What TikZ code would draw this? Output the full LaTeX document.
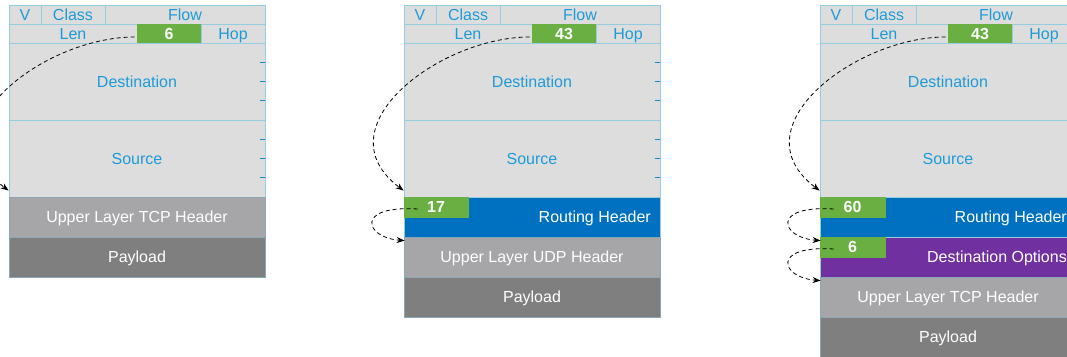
\documentclass[tikz,border=0pt]{standalone}
\usepackage{fontspec}
\setmainfont{Liberation Sans}
\usetikzlibrary{arrows.meta}

\definecolor{cellgray}{HTML}{DDDDDD}
\definecolor{cellline}{HTML}{93CDDF}
\definecolor{fieldblue}{HTML}{1D9BD6}
\definecolor{tickblue}{HTML}{1A8ACB}
\definecolor{valgreen}{HTML}{6AAF41}
\definecolor{routeblue}{HTML}{0070C0}
\definecolor{optpurple}{HTML}{7030A0}
\definecolor{upgray}{HTML}{A6A6A8}
\definecolor{paygray}{HTML}{7F7F7F}
\definecolor{darkline}{HTML}{8AA7B6}

\tikzset{
  cell/.style={rectangle, draw=cellline, line width=0.8pt, fill=cellgray,
    inner sep=0pt, text=fieldblue, text height=11.5pt, text depth=0pt,
    font=\fontsize{16}{16}\selectfont},
  value/.style={cell, draw=valgreen, fill=valgreen, text=white,
    font=\bfseries\fontsize{16}{16}\selectfont},
  upper/.style={cell, draw=darkline, fill=upgray, text=white},
  payload/.style={cell, draw=darkline, fill=paygray, text=white},
  routing/.style={cell, fill=routeblue, text=white},
  options/.style={cell, fill=optpurple, text=white},
  rowlabel/.style={inner sep=0pt, text=white, text height=11.5pt, text depth=0pt,
    font=\fontsize{16}{16}\selectfont, anchor=east},
  tick/.style={draw=tickblue, line width=0.9pt},
  next/.style={draw=black, line width=0.8pt, dash pattern=on 4pt off 3pt,
    -{Stealth[length=8pt,width=6pt]}}
}

% a field: name, x0, y0, x1, y1, style, text
\newcommand\fld[7]{%
  \node[#6, minimum width={#4-#2}, minimum height={#5-#3}] (#1)
    at ({(#2+#4)/2},{(#3+#5)/2}) {#7};}

% fixed IPv6 header: prefix, left edge, next-header value
\newcommand\ipvhead[3]{%
  \begin{scope}[xshift=#2pt]
    \fld{#1v}{0}{5}{32}{24}{cell}{V}
    \fld{#1cls}{32}{5}{96}{24}{cell}{Class}
    \fld{#1flow}{96}{5}{256}{24}{cell}{Flow}
    \fld{#1len}{0}{24}{128}{43}{cell}{Len}
    \fld{#1num}{128}{24}{192}{43}{value}{#3}
    \fld{#1hop}{192}{24}{256}{43}{cell}{Hop}
    \fld{#1dst}{0}{43}{256}{120}{cell}{Destination}
    \fld{#1src}{0}{120}{256}{197}{cell}{Source}
    \foreach \ty in {62.25,81.5,100.75,139.25,158.5,177.75}
      \draw[tick] (250.5,\ty) -- (255.6,\ty);
  \end{scope}}

\begin{document}
\begin{tikzpicture}[x=1pt, y=-1pt]
\useasboundingbox (0,0) rectangle (1067,356);
\clip (0,0) rectangle (1067,356);

% ---- packet with TCP directly after the base header
\ipvhead{a}{9}{6}
\begin{scope}[xshift=9pt]
  \fld{atcp}{0}{197}{256}{237}{upper}{Upper Layer TCP Header}
  \fld{apay}{0}{237}{256}{277}{payload}{Payload}
\end{scope}

% ---- packet with a routing header, then UDP
\ipvhead{b}{404}{43}
\begin{scope}[xshift=404pt]
  \fld{brt}{0}{197}{256}{237}{routing}{}
  \fld{brv}{0}{197}{64}{217}{value}{17}
  \node[rowlabel] (brtl) at (247,217) {Routing Header};
  \fld{budp}{0}{237}{256}{277}{upper}{Upper Layer UDP Header}
  \fld{bpay}{0}{277}{256}{317}{payload}{Payload}
\end{scope}

% ---- packet with routing and destination options headers, then TCP
\ipvhead{c}{820}{43}
\begin{scope}[xshift=820pt]
  \fld{crt}{0}{197}{256}{237}{routing}{}
  \fld{crv}{0}{197}{65}{217}{value}{60}
  \node[rowlabel] (crtl) at (247,217) {Routing Header};
  \fld{cdo}{0}{237}{256}{277}{options}{}
  \fld{cdv}{0}{237}{65}{257}{value}{6}
  \node[rowlabel] (cdol) at (247,257) {Destination Options};
  \fld{ctcp}{0}{277}{256}{317}{upper}{Upper Layer TCP Header}
  \fld{cpay}{0}{317}{256}{357}{payload}{Payload}
\end{scope}

% ---- next-header chains
\draw[next] ([shift={(-2,3.5)}]anum.west) .. controls +(-90,0) and +(-84,-63) ..
  ([yshift=6]atcp.north west);

\draw[next] ([shift={(-2,3.5)}]bnum.west) .. controls +(-90,0) and +(-84,-63) ..
  ([yshift=6]brt.north west);
\draw[next] ([shift={(14,2)}]brv.west) .. controls +(-63,-4) and +(-40,-3) ..
  ([shift={(1,4)}]budp.north west);

\draw[next] ([shift={(-2,3.5)}]cnum.west) .. controls +(-90,0) and +(-84,-63) ..
  ([yshift=6]crt.north west);
\draw[next] ([shift={(14,2)}]crv.west) .. controls +(-63,-4) and +(-40,-3) ..
  ([shift={(1,4)}]cdo.north west);
\draw[next] ([shift={(14,2)}]cdv.west) .. controls +(-63,-4) and +(-40,-3) ..
  ([shift={(1,4)}]ctcp.north west);
\end{tikzpicture}
\end{document}
